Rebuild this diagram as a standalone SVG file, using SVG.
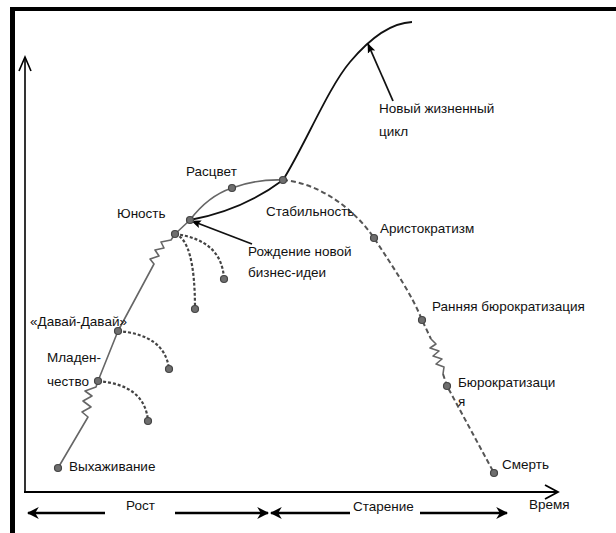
<svg xmlns="http://www.w3.org/2000/svg" width="616" height="533" viewBox="0 0 616 533">
<defs>
<style>
text{font-family:"Liberation Sans",Arial,sans-serif;font-size:13.5px;fill:#111}
.dot{fill:#6e6e6e;stroke:#444;stroke-width:1.2}
.grow{fill:none;stroke:#666;stroke-width:1.6;stroke-linejoin:round}
.blk{fill:none;stroke:#111;stroke-width:1.8}
.dash{fill:none;stroke:#555;stroke-width:2;stroke-dasharray:5 3}
.dot2{fill:none;stroke:#444;stroke-width:2.2;stroke-dasharray:3 2}
.bar{fill:none;stroke:#000;stroke-width:2.4}
</style>
<marker id="barb" viewBox="0 0 10 10" refX="9" refY="5" markerWidth="5" markerHeight="5" orient="auto" markerUnits="strokeWidth">
<path d="M0,0 L10,5 L0,10 L3,5 z" fill="#000"/>
</marker>
<marker id="ptr" viewBox="0 0 10 10" refX="9" refY="5" markerWidth="5.5" markerHeight="5.5" orient="auto" markerUnits="strokeWidth">
<path d="M0,1 L10,5 L0,9 L2,5 z" fill="#000"/>
</marker>
</defs>

<g id="frame">
<line x1="12.5" y1="7" x2="12.5" y2="533" stroke="#000" stroke-width="5"/>
<line x1="10" y1="9" x2="616" y2="9" stroke="#000" stroke-width="4"/>
</g>

<g id="axes" fill="none" stroke="#000">
<line x1="25" y1="492" x2="25" y2="58" stroke-width="1.6"/>
<polyline points="19,71 25,57 31,71" stroke-width="1.6"/>
<line x1="24" y1="492" x2="557" y2="492" stroke-width="2"/>
<polyline points="545,485 558,492 545,499" stroke-width="1.8"/>
</g>

<g id="connectors">
<path class="grow" d="M58,468 L88,417 L82,412 L91,407 L83,401 L92,396 L85,391 L96,387 L98,381 L118,331 L154,264 L150,259 L159,256 L155,250 L164,248 L161,242 L171,240 L175,234 L190,220"/>
<path class="grow" d="M190,220 Q208,196 232,188 Q256,179 283,180"/>
<path class="blk" d="M190,220 Q243,210 283,180 C305,145 328,88 350,62 C366,43 388,23 412,22"/>
<path class="dash" d="M283,180 C320,183 355,210 374,238 C395,270 412,295 422,320 L431,339"/>
<path class="grow" d="M431,339 L436,344 L430,348 L439,351 L433,356 L442,359 L436,364 L444,367 L443,374"/>
<path class="dash" d="M443,374 L447,386 L494,473"/>
<path class="dot2" d="M98,381 Q145,385 148,421"/>
<path class="dot2" d="M118,331 Q165,335 169,369"/>
<path class="dot2" d="M175,234 Q195,240 195,309"/>
<path class="dot2" d="M175,234 Q222,240 224,279"/>
<line class="blk" x1="252" y1="244" x2="192" y2="221" marker-end="url(#ptr)"/>
<line class="blk" x1="393" y1="101" x2="368" y2="44" marker-end="url(#ptr)"/>
</g>

<g id="n-vyhazhivanie"><circle class="dot" cx="58" cy="468" r="3.5"/><text x="69" y="471">Выхаживание</text></g>
<g id="n-mladenchestvo"><circle class="dot" cx="98" cy="381" r="3.5"/><text x="47" y="362">Младен-</text><text x="47" y="386">чество</text></g>
<g id="n-davai"><circle class="dot" cx="118" cy="331" r="3.5"/><text x="30" y="326">«Давай-Давай»</text></g>
<g id="n-end1"><circle class="dot" cx="148" cy="421" r="3.5"/></g>
<g id="n-end2"><circle class="dot" cx="169" cy="369" r="3.5"/></g>
<g id="n-yunost"><circle class="dot" cx="175" cy="234" r="3.5"/><text x="117" y="218">Юность</text></g>
<g id="n-end3"><circle class="dot" cx="195" cy="309" r="3.5"/></g>
<g id="n-end4"><circle class="dot" cx="224" cy="279" r="3.5"/></g>
<g id="n-rozhdenie"><circle class="dot" cx="190" cy="220" r="3.5"/><text x="248" y="256">Рождение новой</text><text x="248" y="277">бизнес-идеи</text></g>
<g id="n-rascvet"><circle class="dot" cx="232" cy="188" r="3.5"/><text x="186" y="176">Расцвет</text></g>
<g id="n-stabilnost"><circle class="dot" cx="283" cy="180" r="3.5"/><text x="266" y="216">Стабильность</text></g>
<g id="n-novyi"><text x="379" y="113">Новый жизненный</text><text x="379" y="136">цикл</text></g>
<g id="n-aristokratizm"><circle class="dot" cx="374" cy="238" r="3.5"/><text x="380" y="233">Аристократизм</text></g>
<g id="n-rannyaya"><circle class="dot" cx="422" cy="320" r="3.5"/><text x="432" y="311">Ранняя бюрократизация</text></g>
<g id="n-byurokratizaciya"><circle class="dot" cx="447" cy="386" r="3.5"/><text x="458" y="387">Бюрократизаци</text><text x="458" y="406">я</text></g>
<g id="n-smert"><circle class="dot" cx="494" cy="473" r="3.5"/><text x="502" y="469">Смерть</text></g>

<g id="timeline">
<line class="bar" x1="105" y1="513" x2="28" y2="513" marker-end="url(#barb)"/>
<text x="126" y="510">Рост</text>
<line class="bar" x1="175" y1="513" x2="268" y2="513" marker-end="url(#barb)"/>
<line class="bar" x1="350" y1="513" x2="271" y2="513" marker-end="url(#barb)"/>
<text x="353" y="511">Старение</text>
<line class="bar" x1="420" y1="513" x2="507" y2="513" marker-end="url(#barb)"/>
<text x="529" y="509">Время</text>
</g>
</svg>
